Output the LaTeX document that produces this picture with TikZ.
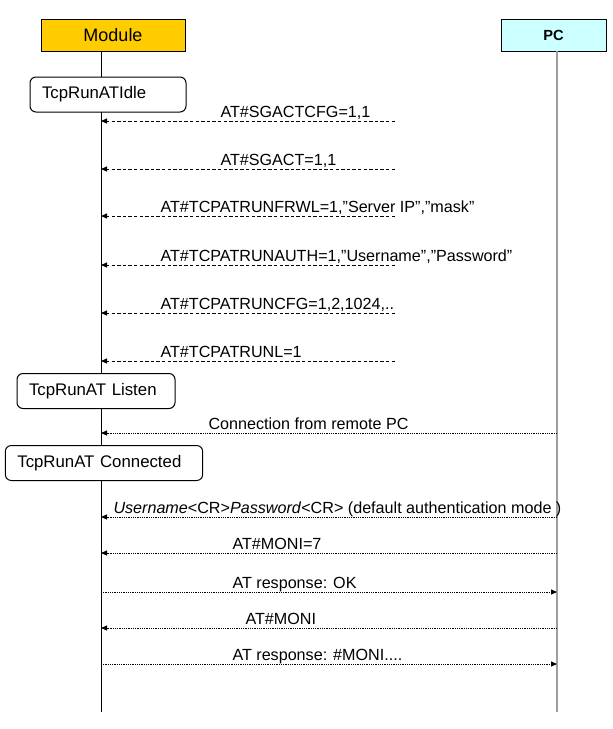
\documentclass[tikz,border=0pt]{standalone}
\usepackage{fontspec}
\setmainfont{Liberation Sans}
\usetikzlibrary{arrows.meta}
\definecolor{modulegold}{HTML}{FFCC00}
\definecolor{pccyan}{HTML}{CCFFFF}

\begin{document}
\begin{tikzpicture}[x=0.75pt, y=-0.75pt, line width=0.75pt,
        every node/.append style={font=\fontsize{12.1}{14}\selectfont},
        >={Triangle[length=4.5pt, width=3.75pt]}]
      \tikzstyle{actor} = [draw, inner sep=0pt, minimum height=24pt]
      \tikzstyle{state} = [draw, fill=white, rounded corners=4.5pt, align=left,
                           inner xsep=9pt, minimum height=26.25pt, font=\fontsize{12.6}{14}\selectfont]
      \tikzstyle{msg} = [anchor=base west, inner sep=0pt]
      \tikzstyle{cmd} = [dash pattern=on 2.6pt off 1.6pt]
      \tikzstyle{reply} = [dash pattern=on 0.75pt off 0.6pt]
      \useasboundingbox (0,0) rectangle (613,729);
      % actors and lifelines
      \node (module) [actor, fill=modulegold, minimum width=108pt, font=\fontsize{13.5}{15}\selectfont] at (113,35) {Module};
      \node (pc) [actor, fill=pccyan, minimum width=78.75pt, font=\fontsize{11}{13}\selectfont\bfseries] at (553.5,35) {PC};
      \coordinate (modline) at (101,51);
      \coordinate (modend) at (101,712);
      \coordinate (pcline) at (557,51);
      \coordinate (pcend) at (557,712);
      \coordinate (cmdsrc) at (395,51);
      \draw (modline) -- (modend);
      \draw[gray!75, line width=1pt] (pcline) -- (pcend);
      % states
      \node (idle) [state, text width=99pt] at (108,94.5) {TcpRunATIdle};
      \node (listen) [state, text width=100.5pt] at (96,391) {TcpRunAT Listen};
      \node (connected) [state, text width=130pt] at (104,463) {TcpRunAT Connected};
      % configuration commands
      \foreach \y/\lx/\txt in {
          121/220/{AT\#SGACTCFG=1,1},
          169/220/{AT\#SGACT=1,1},
          216/160/{AT\#TCPATRUNFRWL=1,"Server IP","mask"},
          265/160/{AT\#TCPATRUNAUTH=1,"Username","Password"},
          313/160/{AT\#TCPATRUNCFG=1,2,1024,..},
          361/160/{AT\#TCPATRUNL=1}}
      {
        \node[msg] at (\lx,\y-4) {\txt};
        \draw[cmd,->] (cmdsrc |- 0,\y) -- (modline |- 0,\y);
      }
      % remote session
      \foreach \y/\lx/\src/\dst/\txt in {
          433/208/pcline/modline/{Connection from remote PC},
          517/113/pcline/modline/{\textit{Username}<CR>\textit{Password}<CR> (default authentication mode )},
          553/232/pcline/modline/{AT\#MONI=7},
          592/232/modline/pcline/{AT response: OK},
          628/245/pcline/modline/{AT\#MONI},
          664/232/modline/pcline/{AT response: \#MONI....}}
      {
        \node[msg] at (\lx,\y-4) {\txt};
        \draw[reply,->] (\src |- 0,\y) -- (\dst |- 0,\y);
      }
    \end{tikzpicture}
\end{document}
